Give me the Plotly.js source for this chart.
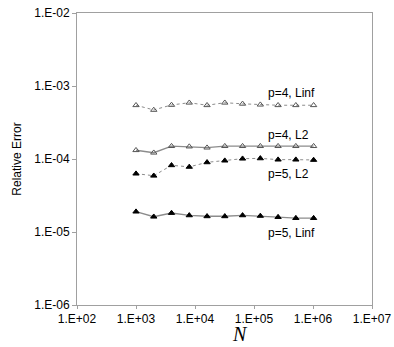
<!DOCTYPE html>
<html>
<head>
<meta charset="utf-8">
<script src="https://cdn.plot.ly/plotly-3.0.1.min.js"></script>
<style>html,body{margin:0;padding:0;background:#fff;}#chart{width:394px;height:347px;}</style>
</head>
<body>
<div id="chart"></div>
<script>
// Problem sizes N
const N = [1000, 2000, 4000, 8000, 16000, 32000, 64000, 128000, 256000, 512000, 1024000];
// Relative errors
const p4Linf = [5.45e-4, 4.7e-4, 5.5e-4, 5.9e-4, 5.45e-4, 5.9e-4, 5.7e-4, 5.55e-4, 5.45e-4, 5.45e-4, 5.45e-4];
const p4L2   = [1.32e-4, 1.22e-4, 1.5e-4, 1.48e-4, 1.43e-4, 1.5e-4, 1.5e-4, 1.5e-4, 1.5e-4, 1.5e-4, 1.5e-4];
const p5L2   = [6.3e-5, 5.9e-5, 8.2e-5, 7.8e-5, 9.0e-5, 9.5e-5, 1.01e-4, 1.02e-4, 9.8e-5, 9.8e-5, 9.7e-5];
const p5Linf = [1.9e-5, 1.62e-5, 1.82e-5, 1.69e-5, 1.64e-5, 1.64e-5, 1.69e-5, 1.66e-5, 1.6e-5, 1.55e-5, 1.55e-5];
const seriesNames = ["p=4, Linf", "p=4, L2", "p=5, L2", "p=5, Linf"];
// Tick labels
const xTickVals = [1e2, 1e3, 1e4, 1e5, 1e6, 1e7];
const xTickText = ["1.E+02", "1.E+03", "1.E+04", "1.E+05", "1.E+06", "1.E+07"];
const yTickVals = [1e-6, 1e-5, 1e-4, 1e-3, 1e-2];
const yTickText = ["1.E-06", "1.E-05", "1.E-04", "1.E-03", "1.E-02"];

const lineGray = "#8c8c8c";
function tr(y, name, dash, filled) {
  return {
    x: N, y: y, name: name, type: "scatter", mode: "lines+markers",
    line: {color: lineGray, width: dash === "solid" ? 1.4 : 1, dash: dash},
    marker: {symbol: filled ? "triangle-up" : "triangle-up-open", size: 5.5,
             color: filled ? "#000" : "#555", line: {color: filled ? "#000" : "#555", width: 1}}
  };
}
const data = [
  tr(p4Linf, seriesNames[0], "dot", false),
  tr(p4L2, seriesNames[1], "solid", false),
  tr(p5L2, seriesNames[2], "dot", true),
  tr(p5Linf, seriesNames[3], "solid", true)
];
const labelY = [-3.092, -3.671, -4.205, -5.01];
const font = {family: "Liberation Sans, Arial, sans-serif", size: 12, color: "#000"};
const annotations = seriesNames.map((t, i) => ({
  text: t, x: 5.2, y: labelY[i], xref: "x", yref: "y", xanchor: "left", yanchor: "middle",
  showarrow: false, font: font
}));
annotations.push({text: "N", xref: "paper", yref: "paper", x: 0.553, y: -0.145, xanchor: "center", yanchor: "bottom",
  showarrow: false, font: {family: "Liberation Serif, Times New Roman, serif", size: 20, color: "#000", style: "italic"}});
const layout = {
  width: 394, height: 347,
  margin: {l: 77, r: 22, t: 13, b: 42},
  paper_bgcolor: "#fff", plot_bgcolor: "#fff",
  showlegend: false,
  font: font,
  xaxis: {type: "log", range: [2, 7], tickvals: xTickVals, ticktext: xTickText,
    showgrid: false, zeroline: false, showline: true, mirror: true, linecolor: "#a0a0a0", linewidth: 1,
    ticks: "outside", ticklen: 3, tickcolor: "#a0a0a0", tickfont: {family: font.family, size: 12, color: "#000"}},
  yaxis: {type: "log", range: [-6, -2], tickvals: yTickVals, ticktext: yTickText,
    showgrid: false, zeroline: false, showline: true, mirror: true, linecolor: "#a0a0a0", linewidth: 1,
    ticks: "outside", ticklen: 4, tickcolor: "#a0a0a0", tickfont: {family: font.family, size: 12, color: "#000"},
    title: {text: "Relative Error", font: {family: font.family, size: 12, color: "#000"}, standoff: 10}},
  annotations: annotations
};
Plotly.newPlot("chart", data, layout, {displayModeBar: false, staticPlot: true});
</script>
</body>
</html>
